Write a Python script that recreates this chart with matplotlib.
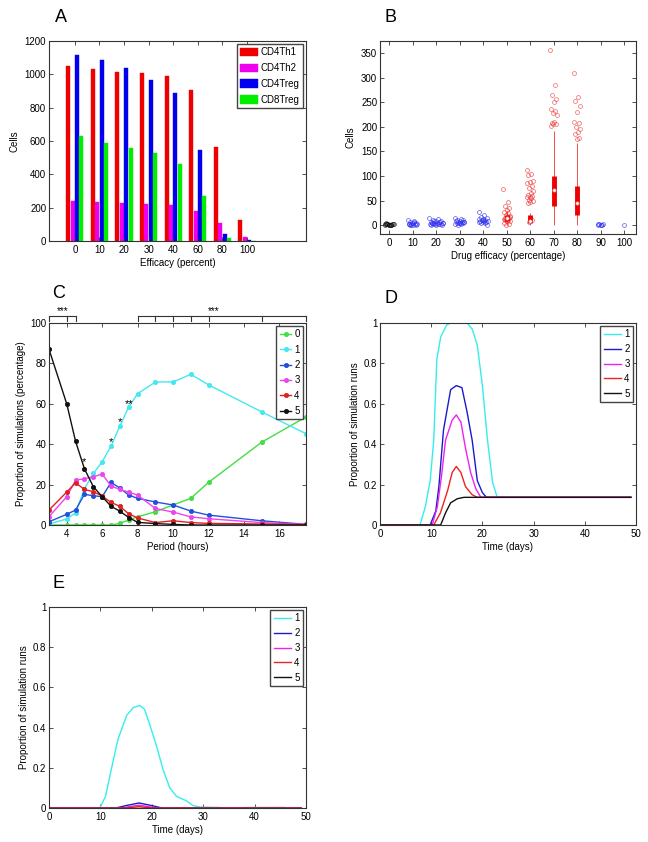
import numpy as np
import matplotlib
matplotlib.use("Agg")
import matplotlib.pyplot as plt
import matplotlib.transforms as mtransforms

plt.rcParams['font.family'] = ['Liberation Sans', 'DejaVu Sans']
plt.rcParams['font.size'] = 7
plt.rcParams['axes.linewidth'] = 0.8
plt.rcParams['xtick.direction'] = 'in'
plt.rcParams['ytick.direction'] = 'in'
plt.rcParams['xtick.major.size'] = 3
plt.rcParams['ytick.major.size'] = 3
plt.rcParams['xtick.major.width'] = 0.6
plt.rcParams['ytick.major.width'] = 0.6
plt.rcParams['xtick.top'] = True
plt.rcParams['ytick.right'] = True
plt.rcParams['xtick.major.pad'] = 3
plt.rcParams['ytick.major.pad'] = 2

# ---------------- Panel A data ----------------
a_categories = ['0', '10', '20', '30', '40', '60', '80', '100']
a_cd4th1 = [1050, 1034, 1014, 1010, 992, 908, 562, 126]
a_cd4th2 = [238, 234, 228, 224, 214, 182, 110, 24]
a_cd4treg = [1114, 1088, 1038, 964, 890, 544, 40, 5]
a_cd8treg = [632, 590, 560, 530, 460, 270, 18, 0]
a_series_names = ['CD4Th1', 'CD4Th2', 'CD4Treg', 'CD8Treg']

# ---------------- Panel B data ----------------
b_efficacy = [0, 10, 20, 30, 40, 50, 60, 70, 80, 90, 100]
b_pts_0 = [0, 1, 2, 3, 1, 2, 0, 3, 2, 1, 4, 2, 1, 3, 0, 2]
b_pts_10 = [10, 8, 6, 5, 4, 3, 3, 2, 2, 1, 1, 0, 4, 2, 6, 1]
b_pts_20 = [15, 12, 10, 9, 8, 7, 6, 5, 5, 4, 4, 3, 3, 3, 2, 2, 1, 1, 0, 6, 8, 4, 2, 5]
b_pts_30 = [15, 13, 11, 10, 9, 8, 7, 6, 6, 5, 5, 4, 4, 3, 2, 1, 7, 5]
b_pts_40 = [26, 20, 17, 15, 13, 12, 11, 10, 9, 8, 8, 7, 7, 6, 5, 4, 0, 10]
b_pts_50 = [73, 47, 40, 35, 30, 27, 25, 20, 18, 16, 15, 14, 13, 12, 11, 10, 9, 8, 5, 2, 0, 17, 14]
b_pts_60 = [112, 105, 103, 90, 88, 85, 80, 75, 70, 65, 62, 60, 58, 57, 55, 52, 50, 48, 45, 10, 6]
b_pts_70 = [357, 285, 266, 257, 251, 237, 232, 228, 224, 210, 208, 207, 205, 202]
b_pts_80 = [309, 261, 252, 243, 231, 211, 209, 200, 195, 189, 185, 178, 175]
b_pts_90 = [0, 1, 2, 3, 1, 2, 0]
b_pts_100 = [0]
# compact box statistics (efficacy, whisker low, q1, median, q3, whisker high)
b_box_eff = [50, 60, 70, 80]
b_box_wlo = [0, 0, 0, 0]
b_box_q1 = [9, 4, 40, 20]
b_box_med = [14, 8, 72, 45]
b_box_q3 = [20, 20, 100, 80]
b_box_whi = [28, 25, 192, 168]

# ---------------- Panel C data ----------------
c_period = [3, 4, 4.5, 5, 5.5, 6, 6.5, 7, 7.5, 8, 9, 10, 11, 12, 15, 17.5]
c_s0 = [0, 0, 0, 0, 0, 0, 0, 0.8, 2.5, 4, 6.6, 9.9, 13.2, 21.1, 41, 53.5]
c_s1 = [0.5, 3, 6, 18, 25.5, 31.3, 39, 49, 58.5, 65, 70.8, 70.8, 74.6, 69.4, 56, 45.2]
c_s2 = [1.6, 5.3, 7.4, 15.2, 14.5, 14, 21.1, 18.3, 14.8, 13.2, 11.4, 9.9, 6.9, 4.9, 2.1, 0.3]
c_s3 = [4.1, 14, 22.2, 22.9, 23.9, 25.2, 19.3, 17.6, 16.3, 14.8, 8.2, 6.4, 4, 3.1, 1.2, 0.3]
c_s4 = [7.4, 16.3, 20.9, 17.6, 16.5, 14.3, 11.2, 9.2, 5.5, 3.5, 1.2, 2.1, 1.2, 0.8, 0.5, 0.2]
c_s5 = [87, 60, 41.4, 27.8, 19, 14, 9.3, 6.8, 3.7, 1.3, 0.7, 0.3, 0, 0, 0, 0]
c_labels = ['0', '1', '2', '3', '4', '5']
c_star_x = [5, 6.5, 7, 7.5]
c_star_y = [31, 41, 51, 60]
c_star_text = ['*', '*', '*', '**']
c_brk1 = [3, 4, 4.5]
c_brk2 = [8, 9, 10, 11, 12, 15, 17.5]

# ---------------- Panel D data ----------------
d1_t = [0, 7.8, 8.85, 9.8, 10.5, 11.1, 11.85, 13, 13.8, 17, 18, 19, 20, 21, 22, 22.9, 49]
d1_v = [0, 0, 0.09, 0.22, 0.42, 0.82, 0.93, 0.99, 1, 1, 0.97, 0.89, 0.69, 0.42, 0.21, 0.137, 0.137]
d2_t = [0, 9.8, 10.9, 11.5, 12.4, 13.8, 14.9, 16, 17, 18, 19, 20, 20.8, 49]
d2_v = [0, 0, 0.07, 0.19, 0.47, 0.67, 0.69, 0.68, 0.56, 0.42, 0.22, 0.16, 0.137, 0.137]
d3_t = [0, 10.2, 11.2, 12, 12.8, 14.1, 14.9, 15.8, 16.7, 17.7, 18.7, 19.7, 49]
d3_v = [0, 0, 0.09, 0.24, 0.42, 0.52, 0.545, 0.51, 0.38, 0.26, 0.18, 0.137, 0.137]
d4_t = [0, 10.5, 11.8, 13.2, 14.1, 14.9, 15.8, 16.7, 18, 19, 49]
d4_v = [0, 0, 0.06, 0.17, 0.26, 0.29, 0.26, 0.19, 0.15, 0.137, 0.137]
d5_t = [0, 11.85, 12.8, 13.8, 15.1, 16.4, 49]
d5_v = [0, 0, 0.06, 0.11, 0.13, 0.137, 0.137]

# ---------------- Panel E data ----------------
e1_t = [0, 9.9, 11, 12.1, 13.4, 15.1, 16.4, 17.7, 18.6, 19.6, 20.9, 22.2, 23.5, 24.8,
        26.8, 28, 29.4, 33, 35, 39.7, 45.6, 47, 49]
e1_v = [0, 0, 0.058, 0.19, 0.34, 0.46, 0.5, 0.51, 0.49, 0.415, 0.31, 0.19, 0.1, 0.058,
        0.035, 0.012, 0.005, 0.003, 0, 0.003, 0.003, 0, 0]
e2_t = [0, 13, 15, 17.5, 20, 22, 49]
e2_v = [0, 0, 0.012, 0.025, 0.012, 0, 0]
e3_t = [0, 14, 16, 17.5, 19, 21, 49]
e3_v = [0, 0, 0.008, 0.014, 0.008, 0, 0]
e4_t = [0, 15, 17.5, 20, 49]
e4_v = [0, 0, 0.007, 0, 0]
e5_t = [0, 49]
e5_v = [0, 0]
de_labels = ['1', '2', '3', '4', '5']

W, H = 648, 842
fig = plt.figure(figsize=(W / 100, H / 100), dpi=100)


def box(l, r, t, b):
    return [l / W, 1 - b / H, (r - l) / W, (b - t) / H]


def style(ax):
    for s in ax.spines.values():
        s.set_color('#333333')
    ax.tick_params(colors='#333333', labelcolor='black')


leg_kw = dict(frameon=True, fancybox=False, framealpha=1, edgecolor='#444444',
              fontsize=7, borderpad=0.35, borderaxespad=0.3, handletextpad=0.3)

# ---------------- A ----------------
axA = fig.add_axes(box(49, 306, 41, 241))
style(axA)
pos = np.arange(1, len(a_categories) + 1)
a_colors = ['#ee0000', '#ee00ee', '#0000ee', '#00ee00']
offsets = [-0.27, -0.09, 0.09, 0.27]
for vals, col, off, name in zip([a_cd4th1, a_cd4th2, a_cd4treg, a_cd8treg], a_colors, offsets, a_series_names):
    axA.bar(pos + off, vals, width=0.16, color=col, edgecolor=col, linewidth=0.3, label=name)
axA.set_xlim(-0.05, 10.4)
axA.set_ylim(0, 1200)
axA.set_xticks(pos)
axA.set_xticklabels(a_categories)
axA.set_yticks(np.arange(0, 1201, 200))
axA.set_xlabel('Efficacy (percent)', labelpad=2)
axA.set_ylabel('Cells', labelpad=4)
axA.legend(loc='upper right', handlelength=1.8, handleheight=0.95, labelspacing=0.6, **leg_kw)
fig.text(55 / W, 1 - 17 / H, 'A', fontsize=13, va='center', ha='left')

# ---------------- B ----------------
axB = fig.add_axes(box(380, 636, 41, 234))
style(axB)


def jit(n, width):
    k = np.arange(n)
    return ((k * 0.6180339887) % 1.0 - 0.5) * 2 * width


b_lists = [b_pts_0, b_pts_10, b_pts_20, b_pts_30, b_pts_40, b_pts_50, b_pts_60,
           b_pts_70, b_pts_80, b_pts_90, b_pts_100]
b_cols = ['#111111', '#3030ee', '#3030ee', '#3030ee', '#3030ee', '#ee3030', '#ee3030',
          '#ee4040', '#ee4040', '#3030ee', '#3030ee']
b_jw = [2.0, 2.0, 3.0, 2.0, 2.0, 1.5, 1.5, 1.5, 1.5, 1.2, 0.0]
for eff, lst, col, jw in zip(b_efficacy, b_lists, b_cols, b_jw):
    v = np.asarray(lst, dtype=float)
    axB.plot(eff + jit(len(v), jw), v, 'o', ms=2.8, mfc='none', mec=col, mew=0.5, alpha=0.8)
for e, wl, q1, md, q3, wh in zip(b_box_eff, b_box_wlo, b_box_q1, b_box_med, b_box_q3, b_box_whi):
    axB.vlines(e, wl, wh, color='#ee3030', lw=0.6)
    axB.vlines(e, q1, q3, color='#ee0000', lw=3.5)
    axB.plot(e, md, 'o', ms=2.5, mfc='white', mec='#ee7070', mew=0.4)
axB.set_xlim(-4, 105)
axB.set_ylim(-18, 375)
axB.set_xticks(b_efficacy)
axB.set_yticks(np.arange(0, 351, 50))
axB.set_xlabel('Drug efficacy (percentage)', labelpad=2)
axB.set_ylabel('Cells', labelpad=4)
fig.text(385 / W, 1 - 17 / H, 'B', fontsize=13, va='center', ha='left')

# ---------------- C ----------------
axC = fig.add_axes(box(49, 306, 323, 525))
style(axC)
c_colors = ['#44dd44', '#44e8f0', '#2050e0', '#ee44ee', '#e02020', '#111111']
for s, col, lab in zip([c_s0, c_s1, c_s2, c_s3, c_s4, c_s5], c_colors, c_labels):
    axC.plot(c_period, s, '-o', color=col, lw=1.0, ms=3, mfc=col, mec=col, mew=0.6, label=lab)
axC.set_xlim(3, 17.5)
axC.set_ylim(0, 100)
axC.set_xticks(np.arange(4, 17, 2))
axC.set_yticks(np.arange(0, 101, 20))
axC.set_xlabel('Period (hours)', labelpad=2)
axC.set_ylabel('Proportion of simulations (percentage)', labelpad=3)
axC.legend(loc='upper right', handlelength=1.2, labelspacing=0.55, **leg_kw)
for x, y, t in zip(c_star_x, c_star_y, c_star_text):
    axC.text(x, y, t, ha='center', va='center', fontsize=8)
trans = mtransforms.blended_transform_factory(axC.transData, axC.transAxes)
for brk in (c_brk1, c_brk2):
    axC.plot([brk[0], brk[-1]], [1.035, 1.035], color='#333333', lw=0.8, transform=trans, clip_on=False)
    for bx in brk:
        axC.plot([bx, bx], [1.035, 1.012], color='#333333', lw=0.8, transform=trans, clip_on=False)
axC.text(3.75, 1.036, '***', transform=trans, ha='center', va='bottom', fontsize=7)
axC.text(12.3, 1.036, '***', transform=trans, ha='center', va='bottom', fontsize=7)
fig.text(52 / W, 1 - 294 / H, 'C', fontsize=13, va='center', ha='left')

# ---------------- D ----------------
axD = fig.add_axes(box(380, 636, 323, 525))
style(axD)
de_colors = ['#33eeee', '#1a1acc', '#ee22ee', '#ee2222', '#111111']
for t, v, col, lab in zip([d1_t, d2_t, d3_t, d4_t, d5_t], [d1_v, d2_v, d3_v, d4_v, d5_v], de_colors, de_labels):
    axD.plot(t, v, color=col, lw=1.0, label=lab)
axD.set_xlim(0, 50)
axD.set_ylim(0, 1)
axD.set_xticks(np.arange(0, 51, 10))
axD.set_yticks(np.arange(0, 1.01, 0.2))
axD.set_yticklabels(['0', '0.2', '0.4', '0.6', '0.8', '1'])
axD.set_xlabel('Time (days)', labelpad=2)
axD.set_ylabel('Proportion of simulation runs', labelpad=3)
axD.legend(loc='upper right', handlelength=1.8, labelspacing=0.5, **leg_kw)
fig.text(384 / W, 1 - 298 / H, 'D', fontsize=13, va='center', ha='left')

# ---------------- E ----------------
axE = fig.add_axes(box(49, 306, 607, 808))
style(axE)
for t, v, col, lab in zip([e1_t, e2_t, e3_t, e4_t, e5_t], [e1_v, e2_v, e3_v, e4_v, e5_v], de_colors, de_labels):
    axE.plot(t, v, color=col, lw=1.0, label=lab)
axE.set_xlim(0, 50)
axE.set_ylim(0, 1)
axE.set_xticks(np.arange(0, 51, 10))
axE.set_yticks(np.arange(0, 1.01, 0.2))
axE.set_yticklabels(['0', '0.2', '0.4', '0.6', '0.8', '1'])
axE.set_xlabel('Time (days)', labelpad=2)
axE.set_ylabel('Proportion of simulation runs', labelpad=3)
axE.legend(loc='upper right', handlelength=1.8, labelspacing=0.5, **leg_kw)
fig.text(52 / W, 1 - 583 / H, 'E', fontsize=13, va='center', ha='left')

fig.savefig('out.png', dpi=100)
